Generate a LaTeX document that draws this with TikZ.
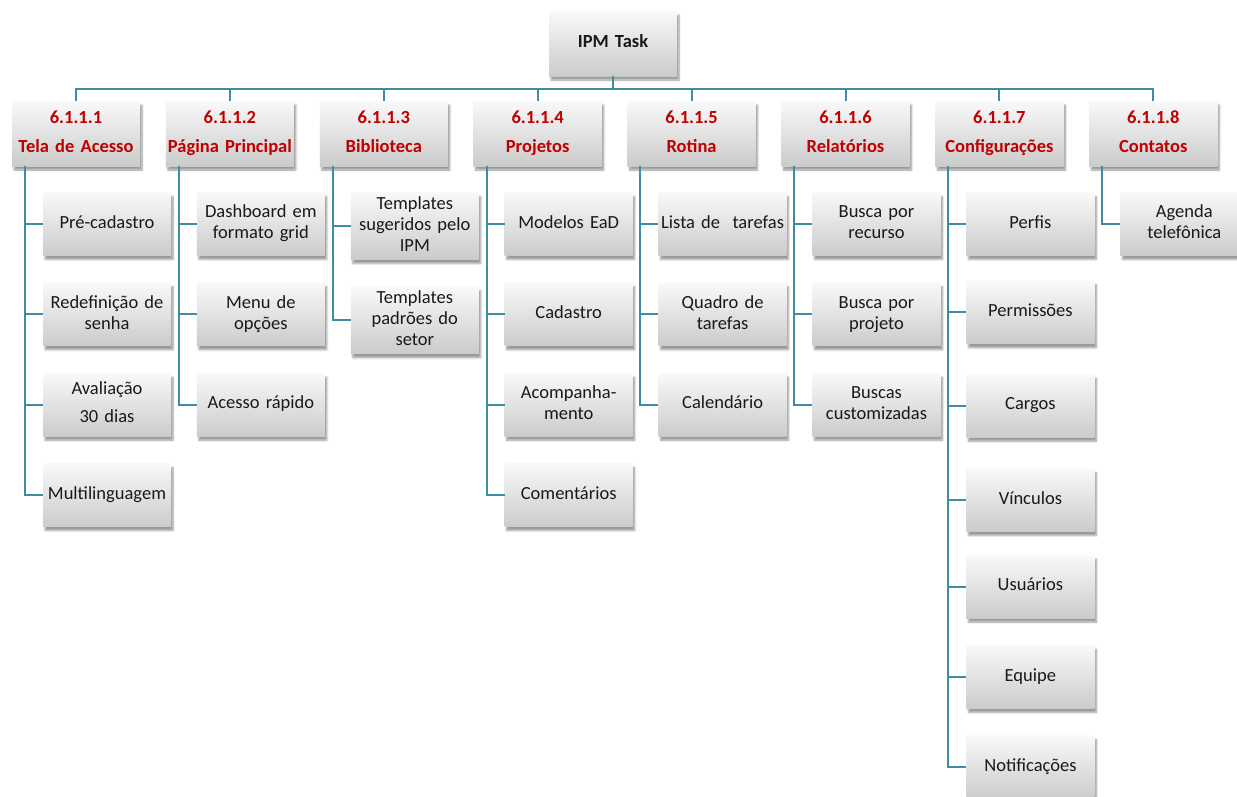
\documentclass[tikz,border=0pt]{standalone}
\usepackage{fontspec}
\setmainfont{Carlito}
\usepackage{xcolor}
\definecolor{wire}{RGB}{62, 141, 163}
\definecolor{codered}{RGB}{192, 0, 0}
\definecolor{ink}{RGB}{25, 25, 25}
\definecolor{boxtop}{RGB}{249, 249, 249}
\definecolor{boxbot}{RGB}{203, 203, 203}
\usepackage{tikz}
\usetikzlibrary{positioning, shadows.blur}
\tikzset{
  card/.style={top color=boxtop, bottom color=boxbot, draw=none,
    minimum width=128pt, text width=124pt, inner sep=2pt, align=center,
    execute at begin node={\strut}, execute at end node={\strut},
    blur shadow={shadow xshift=2pt, shadow yshift=-4pt,
      shadow blur steps=6, shadow opacity=40}},
  rootbox/.style={card, minimum height=65pt,
    font=\fontsize{18.5}{21}\selectfont\bfseries, text=ink},
  areabox/.style={card, minimum height=65pt,
    font=\fontsize{18.5}{21}\selectfont\bfseries, text=codered},
  leafbox/.style={card, minimum height=63pt,
    font=\fontsize{18.5}{21}\selectfont, text=ink},
  link/.style={draw=wire, line width=2pt}
}

\begin{document}
\begin{tikzpicture}[x=1pt, y=-1pt]

  \useasboundingbox (0,0) rectangle (1237,796);

  \node[rootbox] (root) at (613,43.5) {IPM Task};

  \node[areabox] (acesso) at (76,133.5) {6.1.1.1\strut\\[8pt]Tela de Acesso};
  \node[areabox, right=25.5pt of acesso]    (principal) {6.1.1.2\strut\\[8pt]Página Principal};
  \node[areabox, right=25.5pt of principal] (biblio)    {6.1.1.3\strut\\[8pt]Biblioteca};
  \node[areabox, right=25.5pt of biblio]    (projetos)  {6.1.1.4\strut\\[8pt]Projetos};
  \node[areabox, right=25.5pt of projetos]  (rotina)    {6.1.1.5\strut\\[8pt]Rotina};
  \node[areabox, right=25.5pt of rotina]    (relat)     {6.1.1.6\strut\\[8pt]Relatórios};
  \node[areabox, right=25.5pt of relat]     (config)    {6.1.1.7\strut\\[8pt]Configurações};
  \node[areabox, right=25.5pt of config]    (contatos)  {6.1.1.8\strut\\[8pt]Contatos};

  % Tela de Acesso
  \node[leafbox, below=26pt of acesso, xshift=31pt] (precad) {Pré-cadastro};
  \node[leafbox, below=27pt of precad]  (senha)  {Redefinição de\\senha};
  \node[leafbox, below=27pt of senha]   (aval)   {Avaliação\strut\\[7pt]30 dias};
  \node[leafbox, below=27pt of aval]    (multi)  {Multilinguagem};

  % Página Principal
  \node[leafbox, below=26pt of principal, xshift=31pt] (dash) {Dashboard em\\formato grid};
  \node[leafbox, below=27pt of dash]    (menu)   {Menu de\\opções};
  \node[leafbox, below=27pt of menu]    (rapido) {Acesso rápido};

  % Biblioteca
  \node[leafbox, below=26pt of biblio, xshift=31pt] (tsug) {Templates\\sugeridos pelo\\IPM};
  \node[leafbox, below=27pt of tsug]    (tpad)   {Templates\\padrões do\\setor};

  % Projetos
  \node[leafbox, below=26pt of projetos, xshift=31pt] (modelos) {Modelos EaD};
  \node[leafbox, below=27pt of modelos] (cadastro) {Cadastro};
  \node[leafbox, below=27pt of cadastro] (acomp)  {Acompanha-\\mento};
  \node[leafbox, below=27pt of acomp]   (coment) {Comentários};

  % Rotina
  \node[leafbox, below=26pt of rotina, xshift=31pt] (lista) {Lista de\ \ tarefas};
  \node[leafbox, below=27pt of lista]   (quadro) {Quadro de\\tarefas};
  \node[leafbox, below=27pt of quadro]  (calend) {Calendário};

  % Relatórios
  \node[leafbox, below=26pt of relat, xshift=31pt] (recurso) {Busca por\\recurso};
  \node[leafbox, below=27pt of recurso] (projeto) {Busca por\\projeto};
  \node[leafbox, below=27pt of projeto] (custom)  {Buscas\\customizadas};

  % Configurações
  \node[leafbox, below=26pt of config, xshift=31pt] (perfis) {Perfis};
  \node[leafbox, below=25pt of perfis]  (perm)     {Permissões};
  \node[leafbox, below=30pt of perm]    (cargos)   {Cargos};
  \node[leafbox, below=31pt of cargos]  (vinc)     {Vínculos};
  \node[leafbox, below=23pt of vinc]    (usuarios) {Usuários};
  \node[leafbox, below=27pt of usuarios] (equipe)  {Equipe};
  \node[leafbox, below=27pt of equipe]  (notif)    {Notificações};

  % Contatos
  \node[leafbox, below=26pt of contatos, xshift=31pt] (agenda) {Agenda\\telefônica};

  % root to areas
  \draw[link] (root.south) -- ++(0,13) -| (acesso.north);
  \draw[link] (root.south) -- ++(0,13) -| (principal.north);
  \draw[link] (root.south) -- ++(0,13) -| (biblio.north);
  \draw[link] (root.south) -- ++(0,13) -| (projetos.north);
  \draw[link] (root.south) -- ++(0,13) -| (rotina.north);
  \draw[link] (root.south) -- ++(0,13) -| (relat.north);
  \draw[link] (root.south) -- ++(0,13) -| (config.north);
  \draw[link] (root.south) -- ++(0,13) -| (contatos.north);

  % areas to leaves
  \draw[link] ([xshift=13pt]acesso.south west) |- (precad.west);
  \draw[link] ([xshift=13pt]acesso.south west) |- (senha.west);
  \draw[link] ([xshift=13pt]acesso.south west) |- (aval.west);
  \draw[link] ([xshift=13pt]acesso.south west) |- (multi.west);

  \draw[link] ([xshift=13pt]principal.south west) |- (dash.west);
  \draw[link] ([xshift=13pt]principal.south west) |- (menu.west);
  \draw[link] ([xshift=13pt]principal.south west) |- (rapido.west);

  \draw[link] ([xshift=13pt]biblio.south west) |- (tsug.west);
  \draw[link] ([xshift=13pt]biblio.south west) |- (tpad.west);

  \draw[link] ([xshift=13pt]projetos.south west) |- (modelos.west);
  \draw[link] ([xshift=13pt]projetos.south west) |- (cadastro.west);
  \draw[link] ([xshift=13pt]projetos.south west) |- (acomp.west);
  \draw[link] ([xshift=13pt]projetos.south west) |- (coment.west);

  \draw[link] ([xshift=13pt]rotina.south west) |- (lista.west);
  \draw[link] ([xshift=13pt]rotina.south west) |- (quadro.west);
  \draw[link] ([xshift=13pt]rotina.south west) |- (calend.west);

  \draw[link] ([xshift=13pt]relat.south west) |- (recurso.west);
  \draw[link] ([xshift=13pt]relat.south west) |- (projeto.west);
  \draw[link] ([xshift=13pt]relat.south west) |- (custom.west);

  \draw[link] ([xshift=13pt]config.south west) |- (perfis.west);
  \draw[link] ([xshift=13pt]config.south west) |- (perm.west);
  \draw[link] ([xshift=13pt]config.south west) |- (cargos.west);
  \draw[link] ([xshift=13pt]config.south west) |- (vinc.west);
  \draw[link] ([xshift=13pt]config.south west) |- (usuarios.west);
  \draw[link] ([xshift=13pt]config.south west) |- (equipe.west);
  \draw[link] ([xshift=13pt]config.south west) |- (notif.west);

  \draw[link] ([xshift=13pt]contatos.south west) |- (agenda.west);

\end{tikzpicture}
\end{document}
